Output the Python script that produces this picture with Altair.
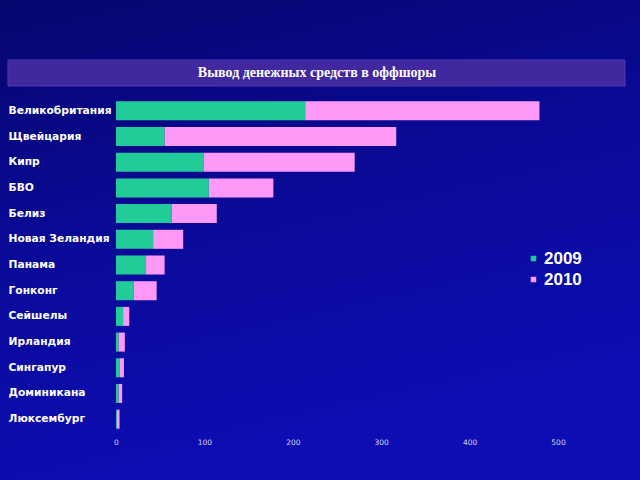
import altair as alt
import pandas as pd

countries = ["Великобритания", "Щвейцария", "Кипр", "БВО", "Белиз", "Новая Зеландия",
             "Панама", "Гонконг", "Сейшелы", "Ирландия", "Сингапур", "Доминикана", "Люксембург"]
v2009 = [214, 55, 99, 105, 63, 42, 34, 20, 8, 3, 4, 3, 1]
v2010 = [265, 262, 171, 73, 51, 34, 21, 26, 7, 7, 5, 4, 3]
years = ["2009", "2010"]
title_text = "Вывод денежных средств в оффшоры"

rows = []
for c, a, b in zip(countries, v2009, v2010):
    rows.append({"country": c, "year": "2009", "value": a, "ord": 0})
    rows.append({"country": c, "year": "2010", "value": b, "ord": 1})
df = pd.DataFrame(rows)

bars = alt.Chart(df).mark_bar(stroke=None).encode(
    y=alt.Y("country:N", sort=countries, title=None,
            scale=alt.Scale(paddingInner=0.26, paddingOuter=0.13),
            axis=alt.Axis(labelAlign="left", labelPadding=108, labelColor="white",
                          labelFont="DejaVu Sans", labelFontWeight="bold", labelFontSize=10.7,
                          ticks=False, domain=False, zindex=1)),
    x=alt.X("value:Q", stack="zero", title=None,
            scale=alt.Scale(domain=[0, 500], nice=False),
            axis=alt.Axis(values=[0, 100, 200, 300, 400, 500], grid=False, ticks=False,
                          domain=False, labelColor="#d8d8e8", labelFontSize=7.5,
                          labelFont="DejaVu Sans", labelPadding=6, labelFlush=False,
                          zindex=1)),
    color=alt.Color("year:N", scale=alt.Scale(domain=years, range=["#22cc99", "#ff99f8"]),
                    legend=alt.Legend(title=None, orient="none", legendX=409, legendY=152,
                                      symbolType="square", symbolSize=30, symbolStrokeWidth=0,
                                      labelColor="white", labelFont="Liberation Sans",
                                      labelFontWeight="bold", labelFontSize=17,
                                      rowPadding=3, labelOffset=2)),
    order=alt.Order("ord:Q"),
)

tdf = pd.DataFrame({"t": [title_text]})
bg = alt.Chart(tdf).mark_rect(
    color=alt.Gradient(gradient="linear",
                       stops=[alt.GradientStop(color="#05056e", offset=0),
                              alt.GradientStop(color="#0a0a98", offset=0.5),
                              alt.GradientStop(color="#0d0db4", offset=1)],
                       x1=0, x2=0.3, y1=0, y2=1)
).encode(x=alt.value(-116), x2=alt.value(524), y=alt.value(-98), y2=alt.value(382))
box = alt.Chart(tdf).mark_rect(color="#41289e", stroke="#4f38b0", strokeWidth=1).encode(
    x=alt.value(-108), x2=alt.value(509), y=alt.value(-38), y2=alt.value(-12))
ttl = alt.Chart(tdf).mark_text(color="white", font="Liberation Serif", fontWeight="bold",
                               fontSize=14, align="center", baseline="middle").encode(
    x=alt.value(201), y=alt.value(-25), text="t:N")

chart = alt.layer(bg, box, ttl, bars).properties(
    width=442, height=334, background="#0a0a90",
    padding={"left": 116, "top": 98, "right": 82, "bottom": 48},
    autosize=alt.AutoSizeParams(type="none"),
).configure_view(stroke=None)

chart.save("out.html", embed_options={"renderer": "svg", "actions": False})
